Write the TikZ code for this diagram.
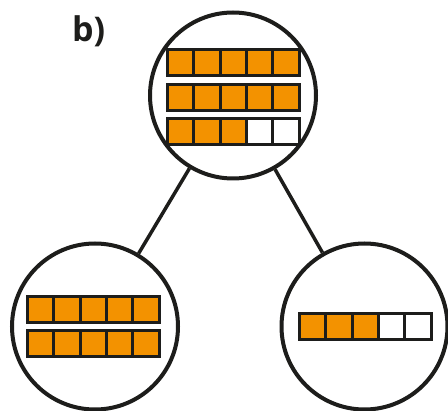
\documentclass[tikz,border=0pt]{standalone}
\usepackage{fontspec}
\setmainfont{Open Sans}
\definecolor{ink}{HTML}{1D1D1B}
\definecolor{fillor}{HTML}{F39200}
\begin{document}
\begin{tikzpicture}[x=1pt,y=-1pt,
  ring/.style={draw=ink,line width=4,fill=white,circle,minimum size=166,inner sep=0},
  link/.style={draw=ink,line width=3.5},
  full/.style={draw=ink,line width=3,fill=fillor},
  empty/.style={draw=ink,line width=3,fill=white}]
\useasboundingbox (0,0) rectangle (448,411);
\node[ring] (top) at (233,95.5) {};
\node[ring] (left) at (95,326.5) {};
\node[ring] (right) at (364.5,326.5) {};
\draw[link] (top) -- (left);
\draw[link] (top) -- (right);
% rows: #1 x-left, #2 y-top, #3 filled count
\newcommand\cellrow[3]{%
  \foreach \i in {0,...,4}{%
    \pgfmathsetmacro\xa{#1+1.5+\i*26.3}%
    \pgfmathsetmacro\xb{\xa+26.3}%
    \ifnum\i<#3\relax
      \path[full] (\xa,#2+1.5) rectangle (\xb,#2+27.5);
    \else
      \path[empty] (\xa,#2+1.5) rectangle (\xb,#2+27.5);
    \fi
  }}
\cellrow{166}{48.5}{5}
\cellrow{166}{83}{5}
\cellrow{166}{117.5}{3}
\cellrow{26}{295.5}{5}
\cellrow{26}{329.5}{5}
\cellrow{298}{312.5}{3}
\node[font=\bfseries\fontsize{34}{40}\selectfont,text=ink,anchor=base west,inner sep=0] (lab) at (72,42) {b)};
\end{tikzpicture}
\end{document}
